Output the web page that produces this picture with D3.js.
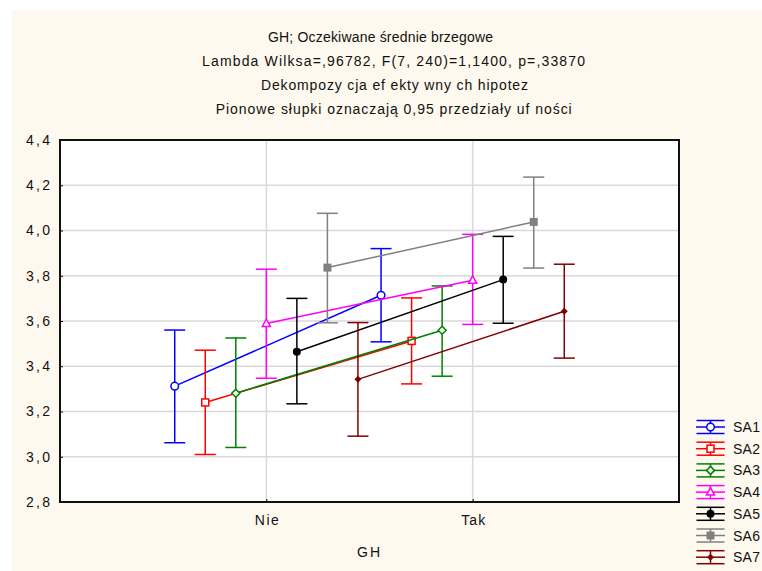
<!DOCTYPE html>
<html><head><meta charset="utf-8">
<script src="https://cdn.jsdelivr.net/npm/d3@7"></script>
<style>html,body{margin:0;padding:0;background:#fff;}svg{display:block;font-family:"Liberation Sans",Arial,sans-serif;}</style>
</head><body>
<script>
const categories = ["Nie", "Tak"];
const seriesNames = ["SA1","SA2","SA3","SA4","SA5","SA6","SA7"];
const seriesColors = ["#0000FF","#FF0000","#008000","#FF00FF","#000000","#808080","#800000"];
const seriesMarkers = ["circle","square","diamond","triangle","dot","filledSquare","smallDiamond"];
const meanNie = [3.312, 3.240, 3.281, 3.589, 3.464, 3.836, 3.342];
const meanTak = [3.714, 3.512, 3.559, 3.780, 3.783, 4.038, 3.643];
const lowNie  = [3.062, 3.010, 3.041, 3.347, 3.234, 3.592, 3.091];
const highNie = [3.560, 3.471, 3.525, 3.829, 3.700, 4.076, 3.593];
const lowTak  = [3.508, 3.322, 3.356, 3.585, 3.590, 3.834, 3.436];
const highTak = [3.920, 3.702, 3.755, 3.983, 3.974, 4.236, 3.851];
const yTicks = [2.8, 3.0, 3.2, 3.4, 3.6, 3.8, 4.0, 4.2, 4.4];
const titleLines = ["GH; Oczekiwane średnie brzegowe",
  "Lambda Wilksa=,96782, F(7, 240)=1,1400, p=,33870",
  "Dekompozy cja ef ekty wny ch hipotez",
  "Pionowe słupki oznaczają 0,95 przedziały uf ności"];
const titleWidths = [225, 383, 267, 356];
const xLabel = "GH";

const W = 762, H = 571;
const L = 60, R = 679, T = 140, B = 502;
const FS = 14;
const svg = d3.select("body").append("svg").attr("width", W).attr("height", H);
svg.append("rect").attr("x",12).attr("y",10).attr("width",W-12).attr("height",H-10).attr("fill","#FEF9EE");
svg.append("rect").attr("x",L).attr("y",T).attr("width",R-L).attr("height",B-T).attr("fill","#fff");

const x = d3.scaleLinear().domain([0, 3]).range([L, R]);
const y = d3.scaleLinear().domain([2.8, 4.4]).range([B, T]);
const offStep = 0.148;

// grid
svg.append("g").selectAll("line").data(yTicks.slice(1,-1)).join("line")
  .attr("x1",L).attr("x2",R).attr("y1",d=>y(d)).attr("y2",d=>y(d))
  .attr("stroke","#d9d9d9").attr("stroke-width",1.5);
svg.append("g").selectAll("line").data(categories).join("line")
  .attr("x1",(d,i)=>x(i+1)).attr("x2",(d,i)=>x(i+1)).attr("y1",T).attr("y2",B)
  .attr("stroke","#d9d9d9").attr("stroke-width",1.5);

// axes
const yAxis = d3.axisLeft(y).tickValues(yTicks).tickSize(-3).tickPadding(10)
  .tickFormat(d => d3.format(".1f")(d).replace(".", ","));
const gy = svg.append("g").attr("transform",`translate(${L},0)`).call(yAxis);
gy.select(".domain").remove();
gy.selectAll("text").attr("font-size",FS).attr("fill","#111").attr("font-family","Liberation Sans, Arial, sans-serif")
  .attr("textLength",24).attr("lengthAdjust","spacing");
gy.selectAll("line").attr("stroke","#000");

const xAxis = d3.axisBottom(x).tickValues([1,2]).tickSize(-3).tickPadding(13)
  .tickFormat(d => categories[d-1]);
const gx = svg.append("g").attr("transform",`translate(0,${B})`).call(xAxis);
gx.select(".domain").remove();
gx.selectAll("text").attr("font-size",FS).attr("fill","#111").attr("font-family","Liberation Sans, Arial, sans-serif")
  .attr("textLength",24).attr("lengthAdjust","spacing");
gx.selectAll("line").attr("stroke","#000");

// frame
svg.append("rect").attr("x",L).attr("y",T).attr("width",R-L).attr("height",B-T)
  .attr("fill","none").attr("stroke","#111").attr("stroke-width",2);

// titles
svg.append("g").selectAll("text").data(titleLines).join("text")
  .attr("x",(d,i)=>[380.5,393.5,394.5,393.7][i]).attr("y",(d,i)=>42+i*24).attr("text-anchor","middle")
  .attr("font-size",FS).attr("fill","#111")
  .attr("textLength",(d,i)=>titleWidths[i]).attr("lengthAdjust","spacing").text(d=>d);
svg.append("text").attr("x",368.5).attr("y",557).attr("text-anchor","middle")
  .attr("font-size",FS).attr("fill","#111").attr("textLength",23).attr("lengthAdjust","spacing").text(xLabel);

function drawMarker(g, type, cx, cy, color) {
  if (type==="circle") g.append("circle").attr("cx",cx).attr("cy",cy).attr("r",3.8).attr("fill","#fff").attr("stroke",color).attr("stroke-width",1.5);
  else if (type==="square") g.append("rect").attr("x",cx-3.5).attr("y",cy-3.5).attr("width",7).attr("height",7).attr("fill","#fff").attr("stroke",color).attr("stroke-width",1.5);
  else if (type==="diamond") g.append("path").attr("d",`M${cx},${cy-4}L${cx+4},${cy}L${cx},${cy+4}L${cx-4},${cy}Z`).attr("fill","#fff").attr("stroke",color).attr("stroke-width",1.5);
  else if (type==="triangle") g.append("path").attr("d",`M${cx},${cy-4.5}L${cx+4},${cy+3}L${cx-4},${cy+3}Z`).attr("fill","#fff").attr("stroke",color).attr("stroke-width",1.5);
  else if (type==="dot") g.append("circle").attr("cx",cx).attr("cy",cy).attr("r",4).attr("fill",color);
  else if (type==="filledSquare") g.append("rect").attr("x",cx-4).attr("y",cy-4).attr("width",8).attr("height",8).attr("fill",color);
  else if (type==="smallDiamond") g.append("path").attr("d",`M${cx},${cy-3.5}L${cx+3.5},${cy}L${cx},${cy+3.5}L${cx-3.5},${cy}Z`).attr("fill",color);
}

const capHalf = 10.5;
seriesNames.forEach((name, s) => {
  const color = seriesColors[s];
  const off = (s - 3) * offStep;
  const pts = [
    {xv: 1 + off, m: meanNie[s], lo: lowNie[s], hi: highNie[s]},
    {xv: 2 + off, m: meanTak[s], lo: lowTak[s], hi: highTak[s]}
  ];
  const g = svg.append("g");
  pts.forEach(p => {
    const cx = x(p.xv);
    g.append("line").attr("x1",cx).attr("x2",cx).attr("y1",y(p.lo)).attr("y2",y(p.hi)).attr("stroke",color).attr("stroke-width",1.5);
    [p.lo, p.hi].forEach(v => g.append("line").attr("x1",cx-capHalf).attr("x2",cx+capHalf).attr("y1",y(v)).attr("y2",y(v)).attr("stroke",color).attr("stroke-width",1.5));
  });
  g.append("path").attr("d", d3.line().x(p=>x(p.xv)).y(p=>y(p.m))(pts))
    .attr("fill","none").attr("stroke",color).attr("stroke-width",1.5);
  pts.forEach(p => drawMarker(g, seriesMarkers[s], x(p.xv), y(p.m), color));

  // legend
  const ly = 427 + s * 21.7;
  const lg = svg.append("g");
  lg.append("line").attr("x1",696).attr("x2",725).attr("y1",ly).attr("y2",ly).attr("stroke",color).attr("stroke-width",1.5);
  lg.append("line").attr("x1",696.5).attr("x2",724.5).attr("y1",ly-6.5).attr("y2",ly-6.5).attr("stroke",color).attr("stroke-width",1.5);
  lg.append("line").attr("x1",696.5).attr("x2",724.5).attr("y1",ly+6.5).attr("y2",ly+6.5).attr("stroke",color).attr("stroke-width",1.5);
  lg.append("line").attr("x1",710.5).attr("x2",710.5).attr("y1",ly-6.5).attr("y2",ly+6.5).attr("stroke",color).attr("stroke-width",1.5);
  drawMarker(lg, seriesMarkers[s], 710.5, ly, color);
  lg.append("text").attr("x",733).attr("y",ly+5).attr("font-size",FS).attr("fill","#111")
    .attr("textLength",27).attr("lengthAdjust","spacing").text(name);
});
</script>
</body></html>
